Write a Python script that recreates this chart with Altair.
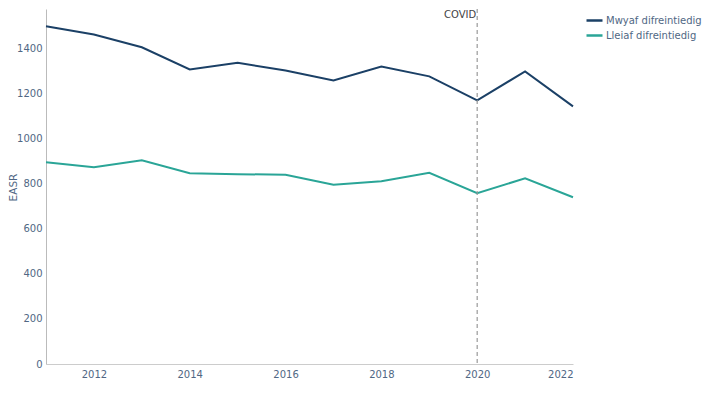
import altair as alt
import pandas as pd

years = list(range(2011, 2023))
mwyaf = [1498, 1462, 1405, 1307, 1336, 1302, 1258, 1320, 1276, 1170, 1298, 1143]
lleiaf = [895, 873, 904, 846, 842, 840, 795, 811, 848, 758, 824, 740]
series_names = ["Mwyaf difreintiedig", "Lleiaf difreintiedig"]
colors = ["#1b4066", "#2aa597"]
covid_year = [2020]
covid_label = ["COVID"]

rows = []
for y, a, b in zip(years, mwyaf, lleiaf):
    rows.append({"year": y, "value": a, "series": series_names[0]})
    rows.append({"year": y, "value": b, "series": series_names[1]})
df = pd.DataFrame(rows)
cov = pd.DataFrame({"year": covid_year, "label": covid_label})

FONT = "DejaVu Sans"
TXT = "#506784"

x_scale = alt.Scale(domain=[2011, 2022], nice=False, zero=False)
y_scale = alt.Scale(domain=[0, 1575], nice=False)

lines = alt.Chart(df).mark_line(strokeWidth=2).encode(
    x=alt.X("year:Q", scale=x_scale,
            axis=alt.Axis(title=None, values=[2012, 2014, 2016, 2018, 2020, 2022],
                          format="d", grid=False, ticks=False, domainColor="#cccccc",
                          labelColor=TXT, labelFont=FONT, labelFontSize=10, labelPadding=5)),
    y=alt.Y("value:Q", scale=y_scale,
            axis=alt.Axis(title="EASR", values=[0, 200, 400, 600, 800, 1000, 1200, 1400],
                          format="d", grid=False, ticks=False, domainColor="#bbbbbb",
                          labelColor=TXT, labelFont=FONT, labelFontSize=10, labelPadding=4,
                          titleColor=TXT, titleFont=FONT, titleFontSize=10.5,
                          titleFontWeight="normal", titleAngle=270, titleAlign="center",
                          titleBaseline="middle", titleX=-33, titleY=178)),
    color=alt.Color("series:N", scale=alt.Scale(domain=series_names, range=colors),
                    sort=series_names,
                    legend=alt.Legend(title=None, orient="none", legendX=539, legendY=2,
                                      symbolType="stroke", symbolStrokeWidth=2.5, symbolSize=256,
                                      labelColor=TXT, labelFont=FONT, labelFontSize=10,
                                      rowPadding=0, labelOffset=2)),
)

rule = alt.Chart(cov).mark_rule(color="#999999", strokeDash=[4, 3], strokeWidth=1.2).encode(
    x=alt.X("year:Q", scale=x_scale),
)

text = alt.Chart(cov).mark_text(align="right", baseline="middle", dx=-1, color="#444444",
                                font=FONT, fontSize=10).encode(
    x=alt.X("year:Q", scale=x_scale),
    y=alt.value(6),
    text="label:N",
)

chart = alt.layer(lines, rule, text).properties(
    width=527, height=355,
    autosize=alt.AutoSizeParams(type="none"),
    padding={"left": 38, "top": 1, "right": 130, "bottom": 26},
).configure_view(stroke=None)

chart.save("out.html", embed_options={"renderer": "svg", "actions": False})
